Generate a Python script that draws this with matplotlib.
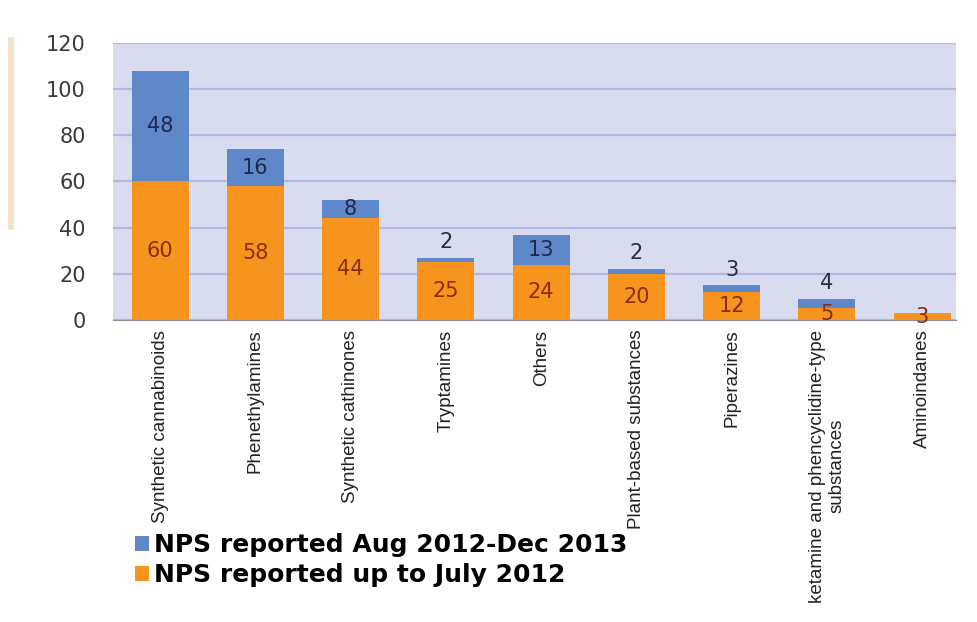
import matplotlib.pyplot as plt
import numpy as np
from matplotlib.patches import Patch, Rectangle

categories = [
    "Synthetic cannabinoids", "Phenethylamines", "Synthetic cathinones",
    "Tryptamines", "Others", "Plant-based substances", "Piperazines",
    "ketamine and phencyclidine-type\nsubstances", "Aminoindanes",
]
up_to_july_2012 = [60, 58, 44, 25, 24, 20, 12, 5, 3]
aug2012_dec2013 = [48, 16, 8, 2, 13, 2, 3, 4, 0]
yticks = [0, 20, 40, 60, 80, 100, 120]

ORANGE = "#f7941d"
BLUE = "#5f88cb"
BG = "#d9dcef"
GRID = "#b2b8e0"

fig = plt.figure(figsize=(9.78, 6.22), dpi=100)
fig.patch.set_facecolor("white")
# faint beige strip on the left edge
fig.patches.append(Rectangle((0.008, 0.63), 0.006, 0.31, transform=fig.transFigure,
                             facecolor="#f1e2cc", edgecolor="none"))

ax = fig.add_axes([0.116, 0.4855, 0.861, 0.4455])
ax.set_facecolor(BG)

x = np.arange(len(categories))
ax.bar(x, up_to_july_2012, width=0.6, color=ORANGE, zorder=3)
ax.bar(x, aug2012_dec2013, width=0.6, bottom=up_to_july_2012, color=BLUE, zorder=3)

for i in range(len(categories)):
    o = up_to_july_2012[i]
    b = aug2012_dec2013[i]
    ax.text(x[i], o / 2, str(o), ha="center", va="center", fontsize=15,
            color="#8a2d0c", zorder=4)
    if b >= 5:
        ax.text(x[i], o + b / 2, str(b), ha="center", va="center", fontsize=15,
                color="#1c2a4e", zorder=4)
    elif b > 0:
        ax.text(x[i], o + b + 2.5, str(b), ha="center", va="bottom", fontsize=15,
                color="#2a2d3c", zorder=4)

ax.set_ylim(0, 120)
ax.set_xlim(-0.49, 8.35)
ax.set_yticks(yticks)
ax.yaxis.grid(True, color=GRID, linewidth=1.6, zorder=1)
ax.set_axisbelow(True)
ax.tick_params(axis="y", length=0, pad=20, labelsize=15, labelcolor="#3a3a3a")
ax.tick_params(axis="x", length=0, pad=7)
ax.set_xticks(x)
ax.set_xticklabels(categories, rotation=90, va="top", ha="center",
                   family="Liberation Sans", fontsize=13.5,
                   color="#222222", multialignment="center")
for s in ["top", "right", "left"]:
    ax.spines[s].set_visible(False)
ax.spines["bottom"].set_color("#8a8a9a")

handles = [Patch(facecolor=BLUE, edgecolor="none"), Patch(facecolor=ORANGE, edgecolor="none")]
labels = ["NPS reported Aug 2012-Dec 2013", "NPS reported up to July 2012"]
fig.legend(handles, labels, loc="upper left", bbox_to_anchor=(0.138, 1 - 533 / 622),
           bbox_transform=fig.transFigure, frameon=False,
           prop={"weight": "bold", "size": 18}, handlelength=0.55, handleheight=0.55,
           handletextpad=0.2, labelspacing=0.25, borderaxespad=0, borderpad=0)

fig.savefig("out.png", dpi=100)
